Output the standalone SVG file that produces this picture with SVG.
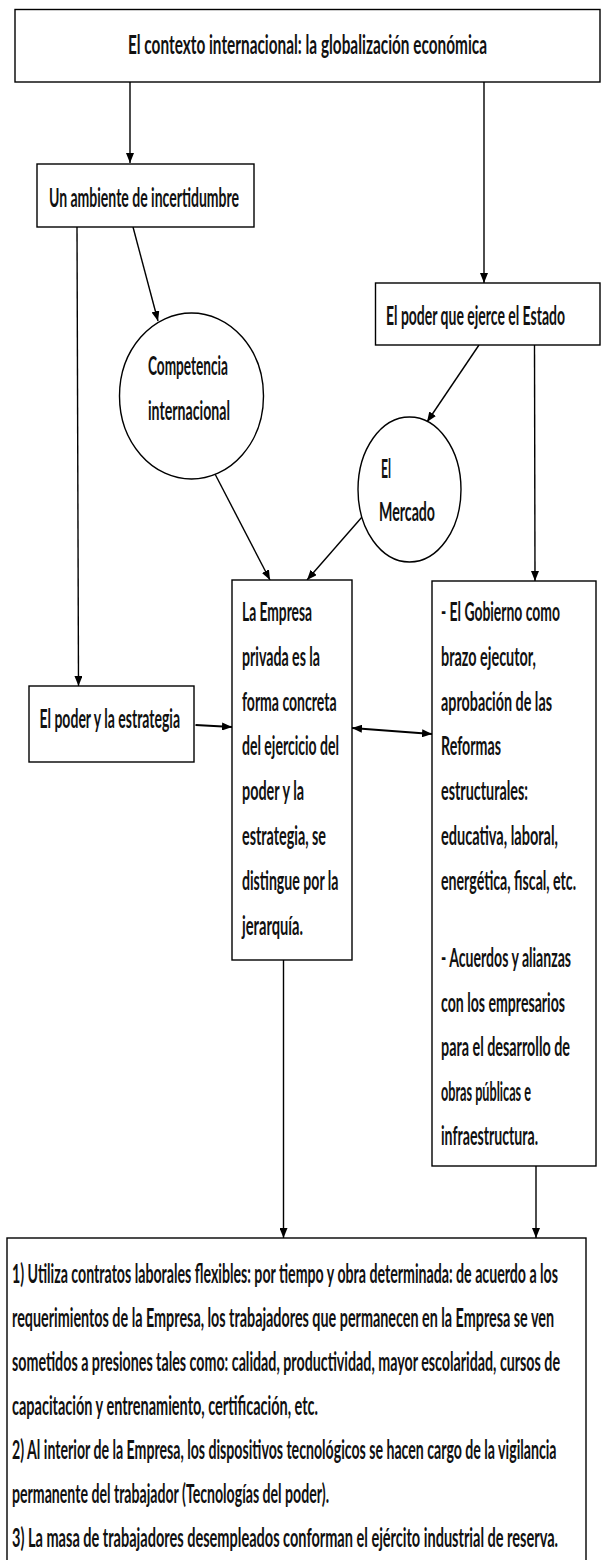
<svg xmlns="http://www.w3.org/2000/svg" width="601" height="1560" viewBox="0 0 601 1560">
<defs>
<style>
.bx{fill:#fff;stroke:#000;stroke-width:1.4}
.ln{fill:none;stroke:#000;stroke-width:1.4}
.lnb{fill:none;stroke:#000;stroke-width:2.2}
.t{font-family:"Lato","Liberation Sans",sans-serif;font-weight:700;font-size:26px;fill:#111}
</style>
<marker id="ah" viewBox="0 0 10 8" refX="10" refY="4" markerWidth="10" markerHeight="8" markerUnits="userSpaceOnUse" orient="auto-start-reverse">
<path d="M0,0 L10,4 L0,8 z" fill="#000"/>
</marker>
</defs>
<rect width="601" height="1560" fill="#fff"/>

<g id="connectors">
<line class="ln" x1="130" y1="82" x2="130" y2="163" marker-end="url(#ah)"/>
<line class="ln" x1="484" y1="82" x2="484" y2="283" marker-end="url(#ah)"/>
<line class="ln" x1="77" y1="227" x2="78.5" y2="686" marker-end="url(#ah)"/>
<line class="ln" x1="133" y1="227" x2="158" y2="321" marker-end="url(#ah)"/>
<line class="ln" x1="215" y1="474" x2="270" y2="580" marker-end="url(#ah)"/>
<line class="ln" x1="479" y1="345" x2="427" y2="422" marker-end="url(#ah)"/>
<line class="ln" x1="362" y1="517" x2="307" y2="580" marker-end="url(#ah)"/>
<line class="ln" x1="534.5" y1="345" x2="535" y2="581" marker-end="url(#ah)"/>
<line class="lnb" x1="195.5" y1="725" x2="232" y2="727" marker-end="url(#ah)"/>
<line class="lnb" x1="352" y1="728" x2="432" y2="734" marker-start="url(#ah)" marker-end="url(#ah)"/>
<line class="ln" x1="283.5" y1="960" x2="283.5" y2="1238" marker-end="url(#ah)"/>
<line class="ln" x1="536" y1="1166" x2="536" y2="1238" marker-end="url(#ah)"/>
</g>

<g id="n-contexto">
<rect class="bx" x="15" y="9.5" width="585" height="72.5"/>
<text class="t" transform="translate(128,53.5) scale(0.5,1)" textLength="718" lengthAdjust="spacingAndGlyphs">El contexto internacional: la globalización económica</text>
</g>

<g id="n-ambiente">
<rect class="bx" x="37" y="164" width="217" height="63"/>
<text class="t" transform="translate(49,207) scale(0.5,1)" textLength="380" lengthAdjust="spacingAndGlyphs">Un ambiente de incertidumbre</text>
</g>

<g id="n-competencia">
<ellipse class="bx" cx="191.5" cy="396" rx="72" ry="83"/>
<text class="t" transform="translate(148,375) scale(0.5,1)" textLength="160" lengthAdjust="spacingAndGlyphs">Competencia</text>
<text class="t" transform="translate(148,420) scale(0.5,1)" textLength="164" lengthAdjust="spacingAndGlyphs">internacional</text>
</g>

<g id="n-estado">
<rect class="bx" x="375.5" y="283" width="224.5" height="62"/>
<text class="t" transform="translate(386,325) scale(0.5,1)" textLength="358" lengthAdjust="spacingAndGlyphs">El poder que ejerce el Estado</text>
</g>

<g id="n-mercado">
<ellipse class="bx" cx="409.5" cy="489.5" rx="51.5" ry="72.5"/>
<text class="t" transform="translate(381,478) scale(0.5,1)" textLength="20" lengthAdjust="spacingAndGlyphs">El</text>
<text class="t" transform="translate(379,521) scale(0.5,1)" textLength="112" lengthAdjust="spacingAndGlyphs">Mercado</text>
</g>

<g id="n-estrategia">
<rect class="bx" x="29" y="686" width="165" height="76"/>
<text class="t" transform="translate(39.5,728) scale(0.5,1)" textLength="281" lengthAdjust="spacingAndGlyphs">El poder y la estrategia</text>
</g>

<g id="n-empresa">
<rect class="bx" x="232" y="580" width="120" height="380"/>
<text class="t" transform="translate(242,621) scale(0.5,1)" textLength="140" lengthAdjust="spacingAndGlyphs">La Empresa</text>
<text class="t" transform="translate(242,665.8) scale(0.5,1)" textLength="156" lengthAdjust="spacingAndGlyphs">privada es la</text>
<text class="t" transform="translate(242,710.6) scale(0.5,1)" textLength="189" lengthAdjust="spacingAndGlyphs">forma concreta</text>
<text class="t" transform="translate(242,755.4) scale(0.5,1)" textLength="194" lengthAdjust="spacingAndGlyphs">del ejercicio del</text>
<text class="t" transform="translate(242,800.2) scale(0.5,1)" textLength="124" lengthAdjust="spacingAndGlyphs">poder y la</text>
<text class="t" transform="translate(242,845) scale(0.5,1)" textLength="168" lengthAdjust="spacingAndGlyphs">estrategia, se</text>
<text class="t" transform="translate(242,889.8) scale(0.5,1)" textLength="193" lengthAdjust="spacingAndGlyphs">distingue por la</text>
<text class="t" transform="translate(242,934.6) scale(0.5,1)" textLength="122" lengthAdjust="spacingAndGlyphs">jerarquía.</text>
</g>

<g id="n-gobierno">
<rect class="bx" x="432" y="581" width="164" height="585"/>
<text class="t" transform="translate(441,621) scale(0.5,1)" textLength="238" lengthAdjust="spacingAndGlyphs">- El Gobierno como</text>
<text class="t" transform="translate(441,665.8) scale(0.5,1)" textLength="190" lengthAdjust="spacingAndGlyphs">brazo ejecutor,</text>
<text class="t" transform="translate(441,710.6) scale(0.5,1)" textLength="222" lengthAdjust="spacingAndGlyphs">aprobación de las</text>
<text class="t" transform="translate(441,755.4) scale(0.5,1)" textLength="120" lengthAdjust="spacingAndGlyphs">Reformas</text>
<text class="t" transform="translate(441,800.2) scale(0.5,1)" textLength="174" lengthAdjust="spacingAndGlyphs">estructurales:</text>
<text class="t" transform="translate(441,845) scale(0.5,1)" textLength="234" lengthAdjust="spacingAndGlyphs">educativa, laboral,</text>
<text class="t" transform="translate(441,889.8) scale(0.5,1)" textLength="270" lengthAdjust="spacingAndGlyphs">energética, fiscal, etc.</text>
<text class="t" transform="translate(441,967) scale(0.5,1)" textLength="260" lengthAdjust="spacingAndGlyphs">- Acuerdos y alianzas</text>
<text class="t" transform="translate(441,1011.5) scale(0.5,1)" textLength="248" lengthAdjust="spacingAndGlyphs">con los empresarios</text>
<text class="t" transform="translate(441,1056) scale(0.5,1)" textLength="258" lengthAdjust="spacingAndGlyphs">para el desarrollo de</text>
<text class="t" transform="translate(441,1100.5) scale(0.5,1)" textLength="180" lengthAdjust="spacingAndGlyphs">obras públicas e</text>
<text class="t" transform="translate(441,1145) scale(0.5,1)" textLength="194" lengthAdjust="spacingAndGlyphs">infraestructura.</text>
</g>

<g id="n-resultado">
<rect class="bx" x="7" y="1238" width="579" height="330"/>
<text class="t" transform="translate(12,1283) scale(0.5,1)" textLength="1092" lengthAdjust="spacingAndGlyphs">1) Utiliza contratos laborales flexibles: por tiempo y obra determinada: de acuerdo a los</text>
<text class="t" transform="translate(12,1327) scale(0.5,1)" textLength="1084" lengthAdjust="spacingAndGlyphs">requerimientos de la Empresa, los trabajadores que permanecen en la Empresa se ven</text>
<text class="t" transform="translate(12,1371) scale(0.5,1)" textLength="1096" lengthAdjust="spacingAndGlyphs">sometidos a presiones tales como: calidad, productividad, mayor escolaridad, cursos de</text>
<text class="t" transform="translate(12,1415) scale(0.5,1)" textLength="612" lengthAdjust="spacingAndGlyphs">capacitación y entrenamiento, certificación, etc.</text>
<text class="t" transform="translate(12,1459) scale(0.5,1)" textLength="1089" lengthAdjust="spacingAndGlyphs">2) Al interior de la Empresa, los dispositivos tecnológicos se hacen cargo de la vigilancia</text>
<text class="t" transform="translate(12,1503) scale(0.5,1)" textLength="634" lengthAdjust="spacingAndGlyphs">permanente del trabajador (Tecnologías del poder).</text>
<text class="t" transform="translate(12,1547) scale(0.5,1)" textLength="1092" lengthAdjust="spacingAndGlyphs">3) La masa de trabajadores desempleados conforman el ejército industrial de reserva.</text>
</g>
</svg>
